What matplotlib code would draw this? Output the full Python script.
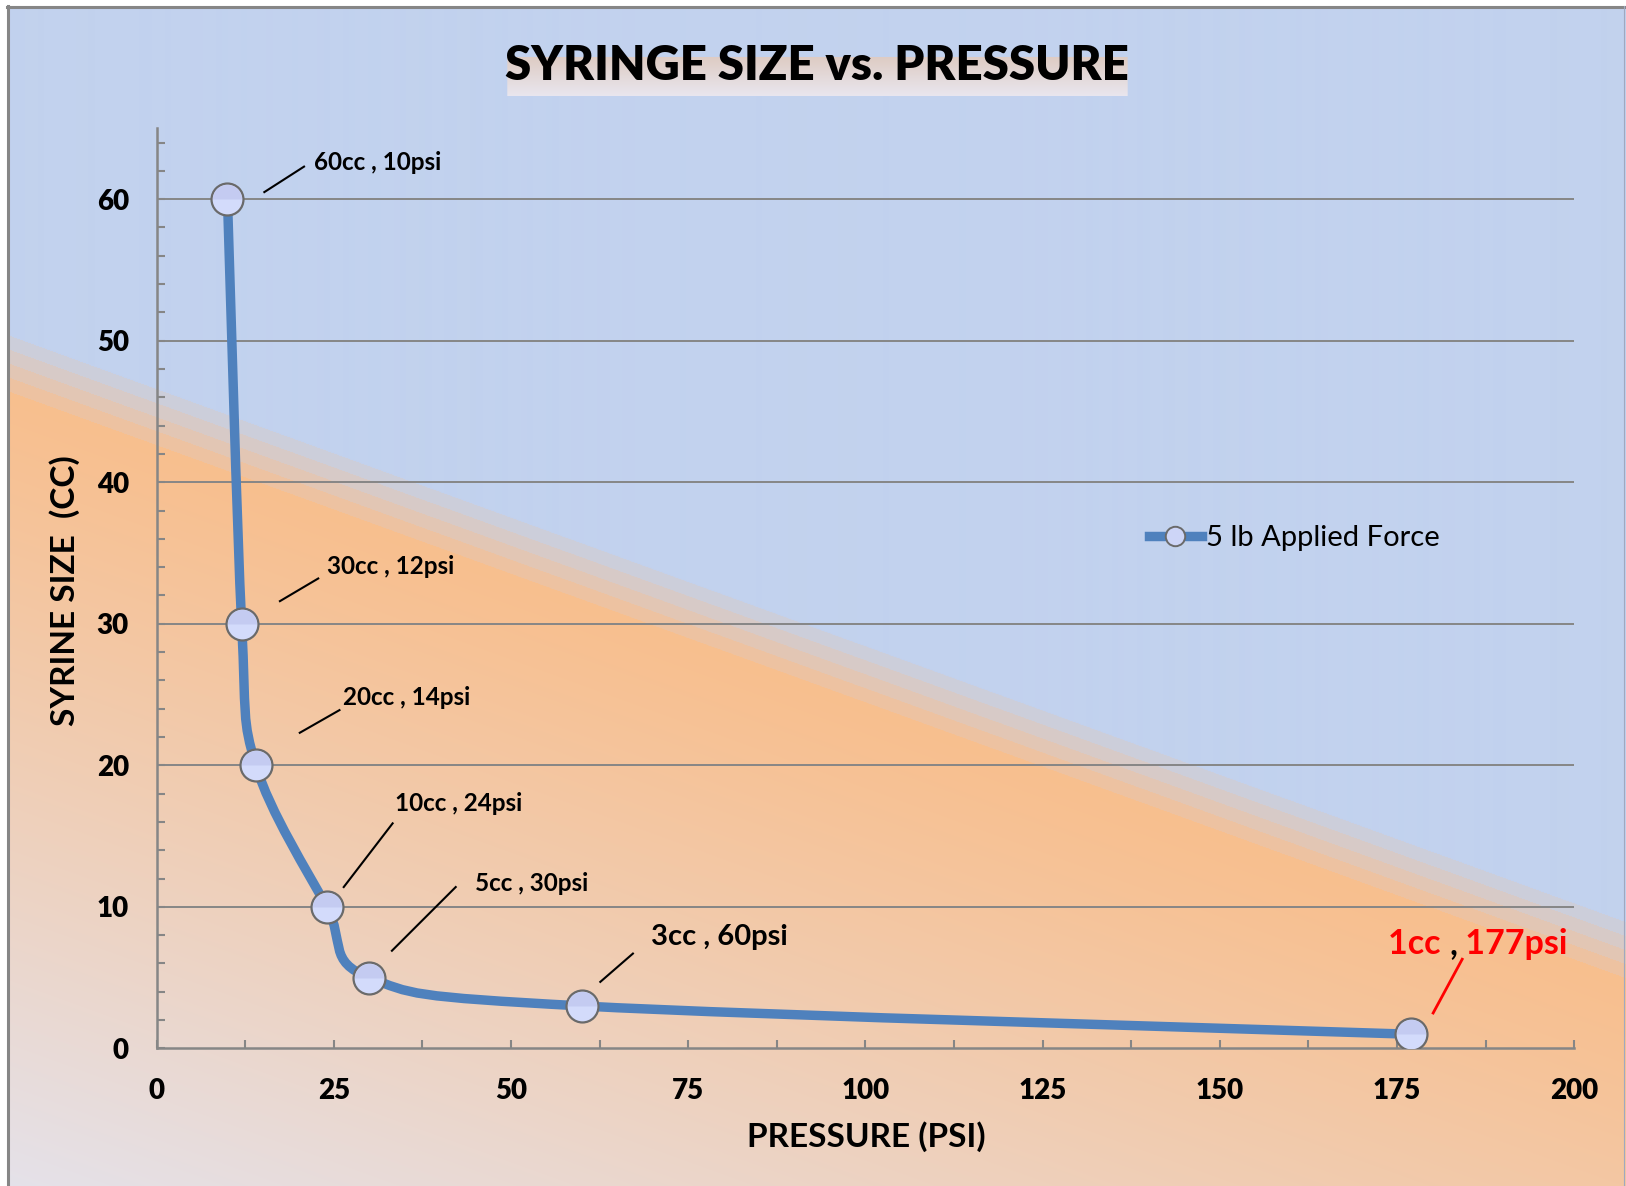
import numpy as np
import matplotlib
matplotlib.use("Agg")
import matplotlib.pyplot as plt
from matplotlib.path import Path
from matplotlib.patches import PathPatch
from matplotlib.lines import Line2D
from matplotlib.ticker import MultipleLocator

# === DATA ===
pressure_psi = [10, 12, 14, 24, 30, 60, 177]
syringe_cc = [60, 30, 20, 10, 5, 3, 1]
point_labels = ["60cc , 10psi", "30cc , 12psi", "20cc , 14psi",
                "10cc , 24psi", "5cc , 30psi", "3cc , 60psi"]
last_label = ("1cc ", ",", " 177psi")
series_name = "5 lb Applied Force"
x_ticks = [0, 25, 50, 75, 100, 125, 150, 175, 200]
y_ticks = [0, 10, 20, 30, 40, 50, 60]

# === LABEL LAYOUT (data coords) ===
label_xy = [(22.2, 62.05), (24.0, 33.5), (26.3, 24.25),
            (33.65, 16.8), (44.9, 11.1), (69.8, 7.3)]
label_size = [17.5, 17.5, 17.5, 17.5, 17.5, 21]
leaders = [((15.2, 60.5), (20.8, 62.3)), ((17.4, 31.6), (22.8, 33.2)),
           ((20.2, 22.3), (25.8, 23.9)), ((26.4, 11.4), (33.3, 15.9)),
           ((33.2, 6.9), (42.2, 11.4)), ((62.6, 4.7), (67.2, 6.7))]
last_xy = (173.8, 6.7)
last_leader = ((180.1, 2.5), (184.2, 6.3))

W, H = 1626, 1186
FONT = "Lato"
GRAY = "#868686"
BLUE_LINE = "#4f81bd"
plt.rcParams["font.family"] = [FONT, "DejaVu Sans"]


def smooth_path(xs, ys):
    """Excel-like smoothed line as cubic bezier segments."""
    pts = np.column_stack([xs, ys]).astype(float)
    n = len(pts)
    verts = [pts[0]]
    codes = [Path.MOVETO]
    for i in range(n - 1):
        p0 = pts[max(i - 1, 0)]
        p1 = pts[i]
        p2 = pts[i + 1]
        p3 = pts[min(i + 2, n - 1)]
        verts += [p1 + (p2 - p0) / 6, p2 - (p3 - p1) / 6, p2]
        codes += [Path.CURVE4] * 3
    return Path(verts, codes)


def background():
    yy, xx = np.mgrid[0:H, 0:W].astype(float)
    d = yy - (332 + 0.363 * xx)
    blue = np.array([194, 210, 238]) / 255
    orange = np.array([248, 191, 142]) / 255
    pale = np.array([228, 227, 237]) / 255
    img = np.zeros((H, W, 3))
    img[:] = blue
    band = 14
    for k in range(4):
        m = (d >= k * band) & (d < (k + 1) * band)
        f = 0.2 * (k + 1)
        img[m] = blue * (1 - f) + orange * f
    m = d >= 4 * band
    t = np.clip((d - 4 * band) / 820, 0, 1) ** 1.1
    img[m] = orange * (1 - t[m, None]) + pale * t[m, None]
    # title box
    r0, r1, c0, c1 = 57, 96, 507, 1127
    tt = np.linspace(0, 1, r1 - r0)[:, None]
    top = np.array([222, 204, 196]) / 255
    bot = np.array([233, 230, 238]) / 255
    img[r0:r1, c0:c1] = top * (1 - tt[..., None]) + bot * tt[..., None]
    # outside frame
    img[:6, :] = 1
    img[:, :7] = 1
    return img


fig = plt.figure(figsize=(W / 100, H / 100), dpi=100)

# === BACKGROUND ===
bg = fig.add_axes([0, 0, 1, 1], zorder=-10)
bg.imshow(background(), extent=(0, W, H, 0), aspect="auto", interpolation="bilinear")
bg.set_xlim(0, W)
bg.set_ylim(H, 0)
bg.axis("off")
bg.plot([7.5, 7.5], [6, H], color=GRAY, lw=2.2)
bg.plot([7, W - 2], [6.5, 6.5], color=GRAY, lw=2.2)
bg.plot([W - 2, W - 2], [6, H], color="#a0a8c0", lw=0.8)

# === MAIN AXES ===
ax = fig.add_axes([156.6 / W, 1 - 1048.4 / H, (1574.2 - 156.6) / W, 920 / H])
ax.set_facecolor("none")
ax.set_xlim(0, 200)
ax.set_ylim(0, 65)

for y in y_ticks[1:]:
    ax.axhline(y, color=GRAY, lw=1.4, zorder=1)

ax.add_patch(PathPatch(smooth_path(pressure_psi, syringe_cc), fill=False,
                       edgecolor=BLUE_LINE, lw=6.8, capstyle="round", zorder=3))
# marker: light body with a darker lavender cap
ax.plot(pressure_psi, syringe_cc, linestyle="none", marker="o", markersize=23,
        markerfacecolor="#d3dbfb", markeredgecolor="#6a6a6a", markeredgewidth=1.6,
        zorder=4)
ax.plot(pressure_psi, syringe_cc, linestyle="none", marker="o", markersize=21,
        fillstyle="top", markerfacecolor="#b9bfea", markerfacecoloralt="none",
        markeredgewidth=0, alpha=0.55, zorder=4)

# === AXIS & STYLE ===
for side in ["top", "right"]:
    ax.spines[side].set_visible(False)
for side in ["left", "bottom"]:
    ax.spines[side].set_color(GRAY)
    ax.spines[side].set_linewidth(1.8)

ax.set_xticks(x_ticks)
ax.set_yticks(y_ticks)
ax.xaxis.set_minor_locator(MultipleLocator(12.5))
ax.yaxis.set_minor_locator(MultipleLocator(2))
ax.tick_params(which="both", direction="in", color=GRAY, width=1.5, length=6)
ax.tick_params(axis="x", which="major", pad=21, labelsize=20)
ax.tick_params(axis="y", which="major", pad=20, labelsize=20)
for lab in ax.get_xticklabels() + ax.get_yticklabels():
    lab.set_fontweight("heavy")

# === LABELS ===
for txt, (tx, ty), fs, (p, q) in zip(point_labels, label_xy, label_size, leaders):
    ax.text(tx, ty, txt, fontsize=fs, fontweight="bold", ha="left", va="baseline", zorder=5)
    ax.plot([p[0], q[0]], [p[1], q[1]], color="black", lw=1.5, zorder=5)

t1 = ax.text(last_xy[0], last_xy[1], last_label[0], fontsize=24.5, fontweight="bold",
             color="red", ha="left", va="baseline", zorder=5)
t2 = ax.annotate(last_label[1], xy=(1, 0), xycoords=t1, fontsize=24.5, fontweight="bold",
                 color="black", ha="left", va="bottom", zorder=5)
ax.annotate(last_label[2], xy=(1, 0), xycoords=t2, fontsize=24.5, fontweight="bold",
            color="red", ha="left", va="bottom", zorder=5)
ax.plot([last_leader[0][0], last_leader[1][0]], [last_leader[0][1], last_leader[1][1]],
        color="red", lw=2, zorder=5)

# === LEGEND ===
handle = Line2D([], [], color=BLUE_LINE, lw=6.8, marker="o", markersize=14,
                markerfacecolor="#cdd5f7", markeredgecolor="#6a6a6a", markeredgewidth=1.4)
fig.legend(handles=[handle], labels=[series_name], loc="center left",
           bbox_to_anchor=(1149 / W, 1 - 538 / H), frameon=False, fontsize=21,
           handlelength=1.8, handletextpad=0.15, borderpad=0, borderaxespad=0,
           numpoints=1)

fig.text(816.5 / W, 1 - 80 / H, "SYRINGE SIZE vs. PRESSURE", fontsize=34,
         fontweight="heavy", ha="center", va="baseline")
fig.text(866 / W, 1 - 1137 / H, "PRESSURE (PSI)", fontsize=24, fontweight="bold",
         ha="center", va="center")
fig.text(65 / W, 1 - 591 / H, "SYRINE SIZE  (CC)", fontsize=24, fontweight="bold",
         ha="center", va="center", rotation=90)

fig.savefig("out.png", dpi=100)
